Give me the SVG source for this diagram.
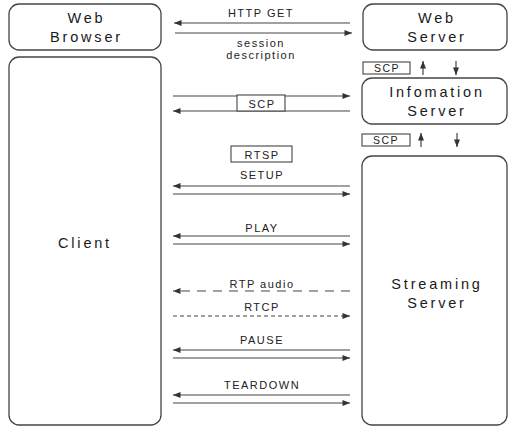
<svg xmlns="http://www.w3.org/2000/svg" width="511" height="427" viewBox="0 0 511 427">
<style>
.box{fill:#fff;stroke:#444;stroke-width:1.3}
.lbl{fill:#fff;stroke:#444;stroke-width:1.1}
.big{font-family:"Liberation Sans",Arial,sans-serif;font-size:14.5px;letter-spacing:2.8px;fill:#1a1a1a;text-anchor:middle}
.sm{font-family:"Liberation Sans",Arial,sans-serif;font-size:11px;letter-spacing:1.5px;fill:#222;text-anchor:middle}
.ln{stroke:#444;stroke-width:1.2;fill:none}
.d1{stroke-dasharray:9 7}
.d2{stroke-dasharray:4 3}
</style>
<defs>
<marker id="ah" viewBox="0 0 10 8" refX="10" refY="4" markerWidth="9" markerHeight="6" markerUnits="userSpaceOnUse" orient="auto">
<path d="M0,0 L10,4 L0,8 z" fill="#333"/>
</marker>
</defs>
<rect width="511" height="427" fill="#fff"/>
<g id="web-browser">
<rect class="box" x="9" y="4" width="152" height="46" rx="10"/>
<text class="big" x="86.5" y="23">Web</text>
<text class="big" x="86.5" y="42">Browser</text>
</g>
<g id="client">
<rect class="box" x="9" y="57" width="152" height="368" rx="10"/>
<text class="big" x="85" y="248">Client</text>
</g>
<g id="web-server">
<rect class="box" x="363" y="4" width="144" height="46" rx="10"/>
<text class="big" x="437" y="23">Web</text>
<text class="big" x="437" y="42">Server</text>
</g>
<g id="info-server">
<rect class="box" x="362" y="78" width="145" height="46" rx="10"/>
<text class="big" x="437" y="97">Infomation</text>
<text class="big" x="437" y="116">Server</text>
</g>
<g id="streaming-server">
<rect class="box" x="362" y="156" width="145" height="269" rx="10"/>
<text class="big" x="437" y="289">Streaming</text>
<text class="big" x="437" y="308">Server</text>
</g>
<g id="connectors">
<line class="ln" x1="350" y1="23" x2="174" y2="23" marker-end="url(#ah)"/>
<line class="ln" x1="175" y1="33" x2="352" y2="33" marker-end="url(#ah)"/>
<text class="sm" x="261" y="17">HTTP GET</text>
<text class="sm" x="261" y="47">session</text>
<text class="sm" x="261" y="59">description</text>

<rect class="lbl" x="363" y="62" width="47" height="12"/>
<text class="sm" x="387" y="72" style="font-size:10.5px">SCP</text>
<line class="ln" x1="423" y1="75" x2="423" y2="61" marker-end="url(#ah)"/>
<line class="ln" x1="456" y1="61" x2="456" y2="75" marker-end="url(#ah)"/>

<rect class="lbl" x="362" y="134" width="48" height="12"/>
<text class="sm" x="386" y="144" style="font-size:10.5px">SCP</text>
<line class="ln" x1="421" y1="147" x2="421" y2="133" marker-end="url(#ah)"/>
<line class="ln" x1="457" y1="133" x2="457" y2="147" marker-end="url(#ah)"/>

<line class="ln" x1="173" y1="96" x2="350" y2="96" marker-end="url(#ah)"/>
<line class="ln" x1="350" y1="111" x2="173" y2="111" marker-end="url(#ah)"/>
<rect class="lbl" x="237" y="95" width="48" height="16"/>
<text class="sm" x="262" y="107.5">SCP</text>

<rect class="lbl" x="231" y="146" width="61" height="16"/>
<text class="sm" x="262" y="158.5">RTSP</text>

<text class="sm" x="262" y="179">SETUP</text>
<line class="ln" x1="350" y1="186" x2="173" y2="186" marker-end="url(#ah)"/>
<line class="ln" x1="173" y1="194" x2="350" y2="194" marker-end="url(#ah)"/>

<text class="sm" x="262" y="232">PLAY</text>
<line class="ln" x1="350" y1="236" x2="173" y2="236" marker-end="url(#ah)"/>
<line class="ln" x1="173" y1="244" x2="350" y2="244" marker-end="url(#ah)"/>

<text class="sm" x="262" y="288">RTP audio</text>
<line class="ln d1" x1="350" y1="291" x2="173" y2="291" marker-end="url(#ah)"/>

<text class="sm" x="262" y="311">RTCP</text>
<line class="ln d2" x1="173" y1="316" x2="350" y2="316" marker-end="url(#ah)"/>

<text class="sm" x="262" y="344">PAUSE</text>
<line class="ln" x1="350" y1="350" x2="173" y2="350" marker-end="url(#ah)"/>
<line class="ln" x1="173" y1="358" x2="350" y2="358" marker-end="url(#ah)"/>

<text class="sm" x="262" y="389">TEARDOWN</text>
<line class="ln" x1="350" y1="395" x2="173" y2="395" marker-end="url(#ah)"/>
<line class="ln" x1="173" y1="403" x2="350" y2="403" marker-end="url(#ah)"/>
</g>
</svg>
